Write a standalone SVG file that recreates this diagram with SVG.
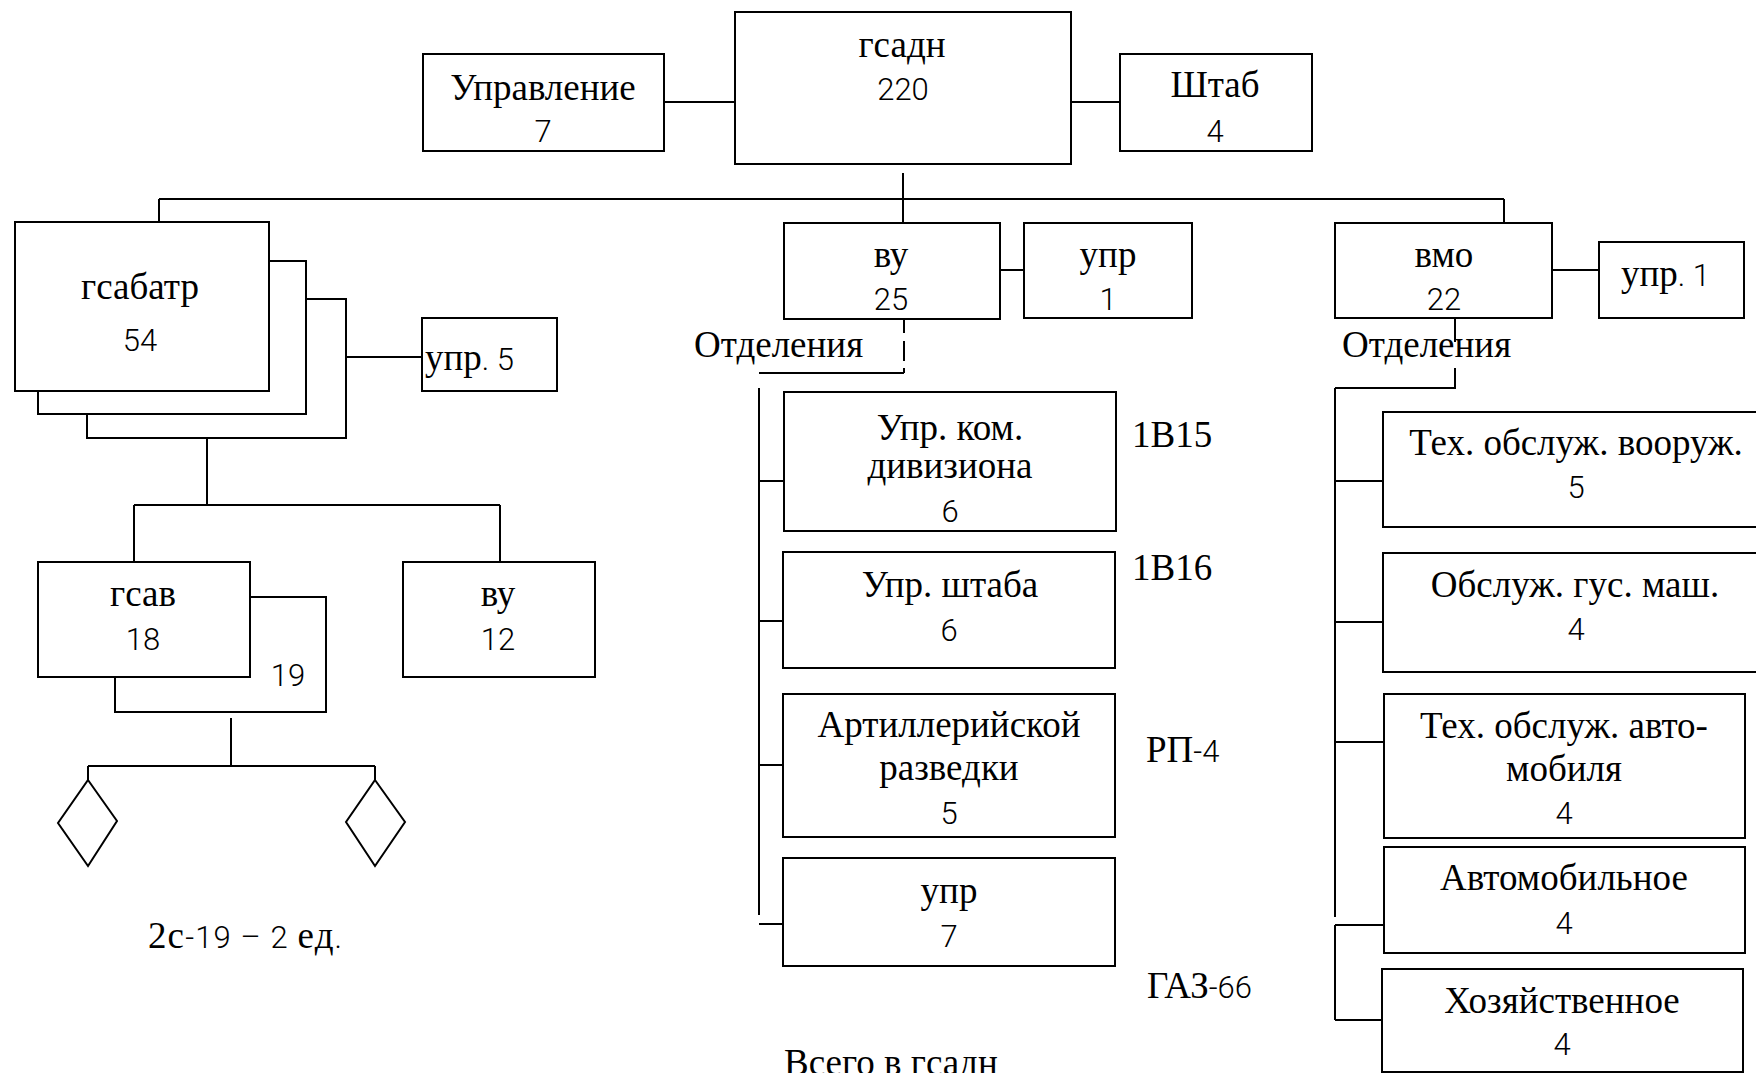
<svg xmlns="http://www.w3.org/2000/svg" width="1756" height="1073" viewBox="0 0 1756 1073">
<style>
.b{fill:#fff;stroke:#000;stroke-width:2}
.l{fill:none;stroke:#000;stroke-width:2}
.s{font-family:"Liberation Serif",serif;font-size:37px;fill:#000}
.d{font-family:Roboto,"Liberation Sans",sans-serif;font-weight:300;font-size:31px}
.m{text-anchor:middle}
</style>
<rect width="1756" height="1073" fill="#fff"/>
<g id="connectors" class="l">
<path d="M664 102H735M1071 102H1120"/>
<path d="M903 173V223M159 199H1504M159 199V222M1504 199V223"/>
<path d="M1000 270H1024M1552 270H1599"/>
<path d="M346 357H422"/>
<path d="M207 436V505M134 505H500M134 505V562M500 505V562"/>
<path d="M231 718V766M88 766H375M88 766V780M375 766V780"/>
<path d="M904 319V373" stroke-dasharray="14 8 20 7"/>
<path d="M759 373H904M759 388V915M759 481H784M759 621H783M759 765H783M759 924H783"/>
<path d="M1455 318V342M1455 368V389M1335 388H1455M1335 388V917M1335 481H1383M1335 622H1383M1335 742H1384M1335 925V1020M1335 925H1384M1335 1020H1382"/>
</g>
<g id="upravlenie"><rect class="b" x="423" y="54" width="241" height="97"/><text class="s m" x="543" y="100">Управление</text><text class="d m" x="543" y="142">7</text></g>
<g id="gsadn"><rect class="b" x="735" y="12" width="336" height="152"/><text class="s m" x="902" y="57">гсадн</text><text class="d m" x="903" y="100">220</text></g>
<g id="shtab"><rect class="b" x="1120" y="54" width="192" height="97"/><text class="s m" x="1215" y="97">Штаб</text><text class="d m" x="1215" y="142">4</text></g>
<g id="gsabatr"><rect class="b" x="87" y="299" width="259" height="139"/><rect class="b" x="38" y="261" width="268" height="153"/><rect class="b" x="15" y="222" width="254" height="169"/><text class="s m" x="140" y="299">гсабатр</text><text class="d m" x="140" y="351">54</text></g>
<g id="upr5"><rect class="b" x="422" y="318" width="135" height="73"/><text class="s" x="425" y="370">упр<tspan class="d">. 5</tspan></text></g>
<g id="gsav"><rect class="b" x="115" y="597" width="211" height="115"/><rect class="b" x="38" y="562" width="212" height="115"/><text class="s m" x="143" y="606">гсав</text><text class="d m" x="143" y="650">18</text><text class="d m" x="288" y="686">19</text></g>
<g id="vu-left"><rect class="b" x="403" y="562" width="192" height="115"/><text class="s m" x="498" y="606">ву</text><text class="d m" x="498" y="650">12</text></g>
<g id="diamond-1"><path class="b" d="M88 780L117 821L88 866L58 823Z"/></g>
<g id="diamond-2"><path class="b" d="M375 780L405 822L375 866L346 822Z"/></g>
<text id="note-2s19" class="s" x="148" y="948" textLength="194" lengthAdjust="spacing">2с<tspan class="d">-19 – 2 </tspan>ед<tspan class="d">.</tspan></text>
<g id="vu-center"><rect class="b" x="784" y="223" width="216" height="96"/><text class="s m" x="891" y="267">ву</text><text class="d m" x="891" y="310">25</text></g>
<g id="upr-center"><rect class="b" x="1024" y="223" width="168" height="95"/><text class="s m" x="1108" y="267">упр</text><text class="d m" x="1108" y="310">1</text></g>
<text id="otd-center" class="s" x="694" y="357">Отделения</text>
<g id="upr-kom"><rect class="b" x="784" y="392" width="332" height="139"/><text class="s m" x="950" y="440">Упр. ком.</text><text class="s m" x="950" y="478">дивизиона</text><text class="d m" x="950" y="522">6</text></g>
<text id="l-1v15" class="s" x="1132" y="447">1В15</text>
<g id="upr-shtaba"><rect class="b" x="783" y="552" width="332" height="116"/><text class="s m" x="950" y="597">Упр. штаба</text><text class="d m" x="949" y="641">6</text></g>
<text id="l-1v16" class="s" x="1132" y="580">1В16</text>
<g id="art-razv"><rect class="b" x="783" y="694" width="332" height="143"/><text class="s m" x="949" y="737">Артиллерийской</text><text class="s m" x="949" y="780">разведки</text><text class="d m" x="949" y="824">5</text></g>
<text id="l-rp4" class="s" x="1146" y="762">РП<tspan class="d">-4</tspan></text>
<g id="upr7"><rect class="b" x="783" y="858" width="332" height="108"/><text class="s m" x="949" y="903">упр</text><text class="d m" x="949" y="947">7</text></g>
<text id="l-gaz66" class="s" x="1147" y="998">ГАЗ<tspan class="d">-66</tspan></text>
<text id="total" class="s" x="784" y="1075">Всего в гсадн</text>
<g id="vmo"><rect class="b" x="1335" y="223" width="217" height="95"/><text class="s m" x="1444" y="267">вмо</text><text class="d m" x="1444" y="310">22</text></g>
<g id="upr1"><rect class="b" x="1599" y="242" width="145" height="76"/><text class="s" x="1621" y="286">упр<tspan class="d">. 1</tspan></text></g>
<text id="otd-right" class="s" x="1342" y="357">Отделения</text>
<g id="teh-voor"><rect class="b" x="1383" y="412" width="380" height="115"/><text class="s m" x="1576" y="455">Тех. обслуж. вооруж.</text><text class="d m" x="1576" y="498">5</text></g>
<g id="obsl-gus"><rect class="b" x="1383" y="553" width="380" height="119"/><text class="s m" x="1575" y="597">Обслуж. гус. маш.</text><text class="d m" x="1576" y="640">4</text></g>
<g id="teh-avto"><rect class="b" x="1384" y="694" width="361" height="144"/><text class="s m" x="1564" y="738">Тех. обслуж. авто-</text><text class="s m" x="1564" y="781">мобиля</text><text class="d m" x="1564" y="824">4</text></g>
<g id="avtomob"><rect class="b" x="1384" y="847" width="361" height="106"/><text class="s m" x="1564" y="890">Автомобильное</text><text class="d m" x="1564" y="934">4</text></g>
<g id="hoz"><rect class="b" x="1382" y="969" width="361" height="103"/><text class="s m" x="1562" y="1013">Хозяйственное</text><text class="d m" x="1562" y="1055">4</text></g>
</svg>
